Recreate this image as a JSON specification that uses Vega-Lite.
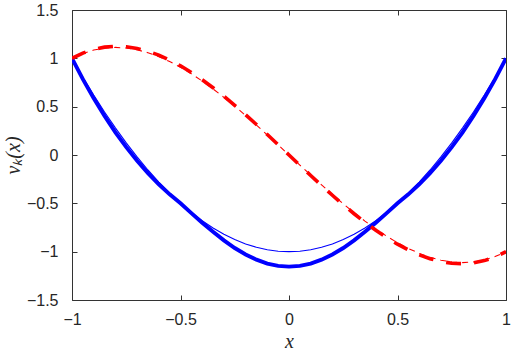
{
  "$schema": "https://vega.github.io/schema/vega-lite/v6.json",
  "width": 434,
  "height": 290,
  "autosize": "none",
  "padding": {"left": 72, "top": 10, "right": 9, "bottom": 53},
  "background": "white",
  "config": {"view": {"stroke": null}},
  "datasets": {
    "curves": [
      {"c":"blue thin","x":-1,"y":1},{"c":"blue thin","x":-0.95,"y":0.805},{"c":"blue thin","x":-0.9,"y":0.62},{"c":"blue thin","x":-0.85,"y":0.445},{"c":"blue thin","x":-0.8,"y":0.28},{"c":"blue thin","x":-0.75,"y":0.125},{"c":"blue thin","x":-0.7,"y":-0.02},{"c":"blue thin","x":-0.65,"y":-0.155},{"c":"blue thin","x":-0.6,"y":-0.28},{"c":"blue thin","x":-0.55,"y":-0.395},{"c":"blue thin","x":-0.5,"y":-0.5},{"c":"blue thin","x":-0.45,"y":-0.595},{"c":"blue thin","x":-0.4,"y":-0.68},{"c":"blue thin","x":-0.35,"y":-0.755},{"c":"blue thin","x":-0.3,"y":-0.82},{"c":"blue thin","x":-0.25,"y":-0.875},{"c":"blue thin","x":-0.2,"y":-0.92},{"c":"blue thin","x":-0.15,"y":-0.955},{"c":"blue thin","x":-0.1,"y":-0.98},{"c":"blue thin","x":-0.05,"y":-0.995},{"c":"blue thin","x":0,"y":-1},{"c":"blue thin","x":0.05,"y":-0.995},{"c":"blue thin","x":0.1,"y":-0.98},{"c":"blue thin","x":0.15,"y":-0.955},{"c":"blue thin","x":0.2,"y":-0.92},{"c":"blue thin","x":0.25,"y":-0.875},{"c":"blue thin","x":0.3,"y":-0.82},{"c":"blue thin","x":0.35,"y":-0.755},{"c":"blue thin","x":0.4,"y":-0.68},{"c":"blue thin","x":0.45,"y":-0.595},{"c":"blue thin","x":0.5,"y":-0.5},{"c":"blue thin","x":0.55,"y":-0.395},{"c":"blue thin","x":0.6,"y":-0.28},{"c":"blue thin","x":0.65,"y":-0.155},{"c":"blue thin","x":0.7,"y":-0.02},{"c":"blue thin","x":0.75,"y":0.125},{"c":"blue thin","x":0.8,"y":0.28},{"c":"blue thin","x":0.85,"y":0.445},{"c":"blue thin","x":0.9,"y":0.62},{"c":"blue thin","x":0.95,"y":0.805},{"c":"blue thin","x":1,"y":1},
      {"c":"blue thick","x":-1,"y":1},{"c":"blue thick","x":-0.95,"y":0.785},{"c":"blue thick","x":-0.9,"y":0.586},{"c":"blue thick","x":-0.85,"y":0.403},{"c":"blue thick","x":-0.8,"y":0.235},{"c":"blue thick","x":-0.75,"y":0.081},{"c":"blue thick","x":-0.7,"y":-0.059},{"c":"blue thick","x":-0.65,"y":-0.187},{"c":"blue thick","x":-0.6,"y":-0.3025},{"c":"blue thick","x":-0.55,"y":-0.407},{"c":"blue thick","x":-0.5,"y":-0.5},{"c":"blue thick","x":-0.45,"y":-0.601},{"c":"blue thick","x":-0.4,"y":-0.7},{"c":"blue thick","x":-0.35,"y":-0.795},{"c":"blue thick","x":-0.3,"y":-0.8835},{"c":"blue thick","x":-0.25,"y":-0.962},{"c":"blue thick","x":-0.2,"y":-1.029},{"c":"blue thick","x":-0.15,"y":-1.083},{"c":"blue thick","x":-0.1,"y":-1.123},{"c":"blue thick","x":-0.05,"y":-1.147},{"c":"blue thick","x":0,"y":-1.155},{"c":"blue thick","x":0.05,"y":-1.147},{"c":"blue thick","x":0.1,"y":-1.123},{"c":"blue thick","x":0.15,"y":-1.083},{"c":"blue thick","x":0.2,"y":-1.029},{"c":"blue thick","x":0.25,"y":-0.962},{"c":"blue thick","x":0.3,"y":-0.8835},{"c":"blue thick","x":0.35,"y":-0.795},{"c":"blue thick","x":0.4,"y":-0.7},{"c":"blue thick","x":0.45,"y":-0.601},{"c":"blue thick","x":0.5,"y":-0.5},{"c":"blue thick","x":0.55,"y":-0.407},{"c":"blue thick","x":0.6,"y":-0.3025},{"c":"blue thick","x":0.65,"y":-0.187},{"c":"blue thick","x":0.7,"y":-0.059},{"c":"blue thick","x":0.75,"y":0.081},{"c":"blue thick","x":0.8,"y":0.235},{"c":"blue thick","x":0.85,"y":0.403},{"c":"blue thick","x":0.9,"y":0.586},{"c":"blue thick","x":0.95,"y":0.785},{"c":"blue thick","x":1,"y":1},
      {"c":"red thin","x":-1,"y":1},{"c":"red thin","x":-0.95,"y":1.0507},{"c":"red thin","x":-0.9,"y":1.0859},{"c":"red thin","x":-0.85,"y":1.1064},{"c":"red thin","x":-0.8,"y":1.1131},{"c":"red thin","x":-0.75,"y":1.1067},{"c":"red thin","x":-0.7,"y":1.0881},{"c":"red thin","x":-0.65,"y":1.058},{"c":"red thin","x":-0.6,"y":1.0174},{"c":"red thin","x":-0.55,"y":0.967},{"c":"red thin","x":-0.5,"y":0.9076},{"c":"red thin","x":-0.45,"y":0.8401},{"c":"red thin","x":-0.4,"y":0.7652},{"c":"red thin","x":-0.35,"y":0.6838},{"c":"red thin","x":-0.3,"y":0.5968},{"c":"red thin","x":-0.25,"y":0.5048},{"c":"red thin","x":-0.2,"y":0.4087},{"c":"red thin","x":-0.15,"y":0.3094},{"c":"red thin","x":-0.1,"y":0.2076},{"c":"red thin","x":-0.05,"y":0.1042},{"c":"red thin","x":0,"y":0},{"c":"red thin","x":0.05,"y":-0.1042},{"c":"red thin","x":0.1,"y":-0.2076},{"c":"red thin","x":0.15,"y":-0.3094},{"c":"red thin","x":0.2,"y":-0.4087},{"c":"red thin","x":0.25,"y":-0.5048},{"c":"red thin","x":0.3,"y":-0.5968},{"c":"red thin","x":0.35,"y":-0.6838},{"c":"red thin","x":0.4,"y":-0.7652},{"c":"red thin","x":0.45,"y":-0.8401},{"c":"red thin","x":0.5,"y":-0.9076},{"c":"red thin","x":0.55,"y":-0.967},{"c":"red thin","x":0.6,"y":-1.0174},{"c":"red thin","x":0.65,"y":-1.058},{"c":"red thin","x":0.7,"y":-1.0881},{"c":"red thin","x":0.75,"y":-1.1067},{"c":"red thin","x":0.8,"y":-1.1131},{"c":"red thin","x":0.85,"y":-1.1064},{"c":"red thin","x":0.9,"y":-1.0859},{"c":"red thin","x":0.95,"y":-1.0507},{"c":"red thin","x":1,"y":-1},
      {"c":"red thick","x":-1,"y":1},{"c":"red thick","x":-0.95,"y":1.0544},{"c":"red thick","x":-0.9,"y":1.0927},{"c":"red thick","x":-0.85,"y":1.1158},{"c":"red thick","x":-0.8,"y":1.1246},{"c":"red thick","x":-0.75,"y":1.1198},{"c":"red thick","x":-0.7,"y":1.1024},{"c":"red thick","x":-0.65,"y":1.073},{"c":"red thick","x":-0.6,"y":1.0328},{"c":"red thick","x":-0.55,"y":0.9823},{"c":"red thick","x":-0.5,"y":0.9226},{"c":"red thick","x":-0.45,"y":0.8545},{"c":"red thick","x":-0.4,"y":0.7786},{"c":"red thick","x":-0.35,"y":0.6961},{"c":"red thick","x":-0.3,"y":0.6077},{"c":"red thick","x":-0.25,"y":0.5142},{"c":"red thick","x":-0.2,"y":0.4164},{"c":"red thick","x":-0.15,"y":0.3153},{"c":"red thick","x":-0.1,"y":0.2116},{"c":"red thick","x":-0.05,"y":0.1062},{"c":"red thick","x":0,"y":0},{"c":"red thick","x":0.05,"y":-0.1062},{"c":"red thick","x":0.1,"y":-0.2116},{"c":"red thick","x":0.15,"y":-0.3153},{"c":"red thick","x":0.2,"y":-0.4164},{"c":"red thick","x":0.25,"y":-0.5142},{"c":"red thick","x":0.3,"y":-0.6077},{"c":"red thick","x":0.35,"y":-0.6961},{"c":"red thick","x":0.4,"y":-0.7786},{"c":"red thick","x":0.45,"y":-0.8545},{"c":"red thick","x":0.5,"y":-0.9226},{"c":"red thick","x":0.55,"y":-0.9823},{"c":"red thick","x":0.6,"y":-1.0328},{"c":"red thick","x":0.65,"y":-1.073},{"c":"red thick","x":0.7,"y":-1.1024},{"c":"red thick","x":0.75,"y":-1.1198},{"c":"red thick","x":0.8,"y":-1.1246},{"c":"red thick","x":0.85,"y":-1.1158},{"c":"red thick","x":0.9,"y":-1.0927},{"c":"red thick","x":0.95,"y":-1.0544},{"c":"red thick","x":1,"y":-1}
    ]
  },
  "data": {"name": "curves"},
  "encoding": {
    "x": {"field": "x", "type": "quantitative", "scale": {"domain": [-1, 1], "nice": false, "zero": false}},
    "y": {"field": "y", "type": "quantitative", "scale": {"domain": [-1.5, 1.5], "nice": false, "zero": false}}
  },
  "layer": [
    {
      "transform": [{"filter": "datum.c === 'blue thick'"}],
      "mark": {"type": "line", "clip": true, "color": "#0000ff", "strokeWidth": 3.9, "strokeCap": "butt"},
      "encoding": {
        "x": {
          "field": "x", "type": "quantitative",
          "axis": {
            "orient": "bottom", "values": [-1, -0.5, 0, 0.5, 1], "grid": false, "format": "~g",
            "domainColor": "#333333", "tickColor": "#333333", "tickSize": -5,
            "labelFont": "Liberation Sans", "labelFontSize": 16, "labelColor": "#262626",
            "labelPadding": 16, "labelFlush": false,
            "title": "x", "titleFont": "Liberation Serif", "titleFontStyle": "italic",
            "titleFontWeight": "normal", "titleFontSize": 20, "titleColor": "#262626", "titlePadding": 4
          }
        },
        "y": {
          "field": "y", "type": "quantitative",
          "axis": {
            "orient": "left", "values": [-1.5, -1, -0.5, 0, 0.5, 1, 1.5], "grid": false, "format": "~g",
            "domainColor": "#333333", "tickColor": "#333333", "tickSize": -5,
            "labelFont": "Liberation Sans", "labelFontSize": 16, "labelColor": "#262626",
            "labelPadding": 19, "labelFlush": false,
            "title": "vₖ(x)", "titleFont": "Liberation Serif", "titleFontStyle": "italic",
            "titleFontWeight": "normal", "titleFontSize": 20, "titleColor": "#262626", "titlePadding": 3
          }
        }
      }
    },
    {
      "transform": [{"filter": "datum.c === 'blue thin'"}],
      "mark": {"type": "line", "clip": true, "color": "#0000ff", "strokeWidth": 1.1},
      "encoding": {
        "x": {"field": "x", "type": "quantitative", "axis": null},
        "y": {"field": "y", "type": "quantitative", "axis": null}
      }
    },
    {
      "transform": [{"filter": "datum.c === 'red thick'"}],
      "mark": {"type": "line", "clip": true, "color": "#ff0000", "strokeWidth": 3.6, "strokeDash": [15, 13], "strokeCap": "butt"},
      "encoding": {
        "x": {"field": "x", "type": "quantitative", "axis": null},
        "y": {"field": "y", "type": "quantitative", "axis": null}
      }
    },
    {
      "transform": [{"filter": "datum.c === 'red thin'"}],
      "mark": {"type": "line", "clip": true, "color": "#ff0000", "strokeWidth": 1.1, "strokeDash": [6, 5]},
      "encoding": {
        "x": {"field": "x", "type": "quantitative", "axis": null},
        "y": {"field": "y", "type": "quantitative", "axis": null}
      }
    },
    {
      "mark": {"type": "line", "opacity": 0},
      "encoding": {
        "x": {
          "field": "x", "type": "quantitative",
          "axis": {"orient": "top", "values": [-1, -0.5, 0, 0.5, 1], "grid": false, "labels": false, "title": null, "domainColor": "#333333", "tickColor": "#333333", "tickSize": -5}
        },
        "y": {
          "field": "y", "type": "quantitative",
          "axis": {"orient": "right", "values": [-1.5, -1, -0.5, 0, 0.5, 1, 1.5], "grid": false, "labels": false, "title": null, "domainColor": "#333333", "tickColor": "#333333", "tickSize": -5}
        },
        "detail": {"field": "c", "type": "nominal"}
      }
    }
  ],
  "resolve": {"axis": {"x": "independent", "y": "independent"}}
}
